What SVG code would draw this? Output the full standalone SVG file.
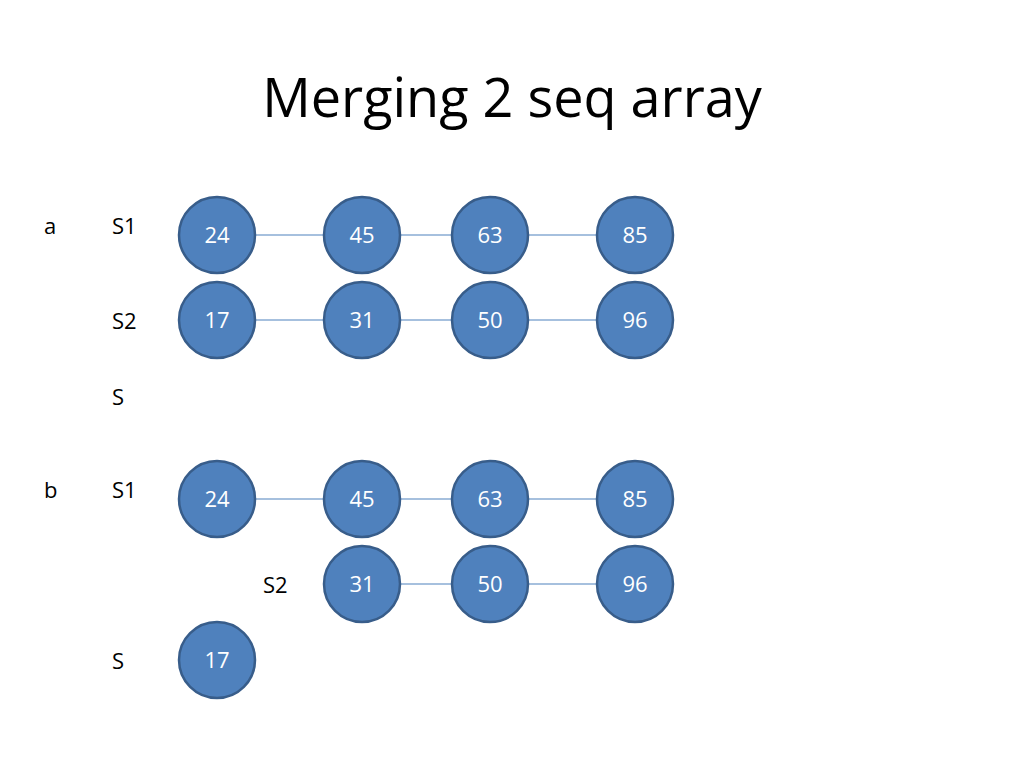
<svg xmlns="http://www.w3.org/2000/svg" width="1024" height="768" viewBox="0 0 1024 768">
<style>
.n{fill:#4F81BD;stroke:#385D8A;stroke-width:2.5}
.t{font-family:"Open Sans","Liberation Sans",sans-serif;font-size:22px;fill:#fff;text-anchor:middle}
.l{font-family:"Open Sans","Liberation Sans",sans-serif;font-size:22px;fill:#000}
.e{stroke:#4F81BD;stroke-width:1.2}
</style>
<rect width="1024" height="768" fill="#fff"/>
<text x="512" y="117" font-family="Open Sans, Liberation Sans, sans-serif" font-size="54" text-anchor="middle" fill="#000">Merging 2 seq array</text>
<g id="labels">
<text class="l" x="44" y="234">a</text>
<text class="l" x="112" y="234">S1</text>
<text class="l" x="112" y="329">S2</text>
<text class="l" x="112" y="405">S</text>
<text class="l" x="44" y="498">b</text>
<text class="l" x="112" y="498">S1</text>
<text class="l" x="263" y="593">S2</text>
<text class="l" x="112" y="669">S</text>
</g>
<g id="connectors">
<line class="e" x1="256" y1="235" x2="323" y2="235"/>
<line class="e" x1="401" y1="235" x2="451" y2="235"/>
<line class="e" x1="529" y1="235" x2="596" y2="235"/>
<line class="e" x1="256" y1="320" x2="323" y2="320"/>
<line class="e" x1="401" y1="320" x2="451" y2="320"/>
<line class="e" x1="529" y1="320" x2="596" y2="320"/>
<line class="e" x1="256" y1="499" x2="323" y2="499"/>
<line class="e" x1="401" y1="499" x2="451" y2="499"/>
<line class="e" x1="529" y1="499" x2="596" y2="499"/>
<line class="e" x1="401" y1="584" x2="451" y2="584"/>
<line class="e" x1="529" y1="584" x2="596" y2="584"/>
</g>
<g id="a-s1-24"><circle class="n" cx="217" cy="235" r="38"/><text class="t" x="217" y="243">24</text></g>
<g id="a-s1-45"><circle class="n" cx="362" cy="235" r="38"/><text class="t" x="362" y="243">45</text></g>
<g id="a-s1-63"><circle class="n" cx="490" cy="235" r="38"/><text class="t" x="490" y="243">63</text></g>
<g id="a-s1-85"><circle class="n" cx="635" cy="235" r="38"/><text class="t" x="635" y="243">85</text></g>
<g id="a-s2-17"><circle class="n" cx="217" cy="320" r="38"/><text class="t" x="217" y="328">17</text></g>
<g id="a-s2-31"><circle class="n" cx="362" cy="320" r="38"/><text class="t" x="362" y="328">31</text></g>
<g id="a-s2-50"><circle class="n" cx="490" cy="320" r="38"/><text class="t" x="490" y="328">50</text></g>
<g id="a-s2-96"><circle class="n" cx="635" cy="320" r="38"/><text class="t" x="635" y="328">96</text></g>
<g id="b-s1-24"><circle class="n" cx="217" cy="499" r="38"/><text class="t" x="217" y="507">24</text></g>
<g id="b-s1-45"><circle class="n" cx="362" cy="499" r="38"/><text class="t" x="362" y="507">45</text></g>
<g id="b-s1-63"><circle class="n" cx="490" cy="499" r="38"/><text class="t" x="490" y="507">63</text></g>
<g id="b-s1-85"><circle class="n" cx="635" cy="499" r="38"/><text class="t" x="635" y="507">85</text></g>
<g id="b-s2-31"><circle class="n" cx="362" cy="584" r="38"/><text class="t" x="362" y="592">31</text></g>
<g id="b-s2-50"><circle class="n" cx="490" cy="584" r="38"/><text class="t" x="490" y="592">50</text></g>
<g id="b-s2-96"><circle class="n" cx="635" cy="584" r="38"/><text class="t" x="635" y="592">96</text></g>
<g id="b-s-17"><circle class="n" cx="217" cy="660" r="38"/><text class="t" x="217" y="668">17</text></g>
</svg>
